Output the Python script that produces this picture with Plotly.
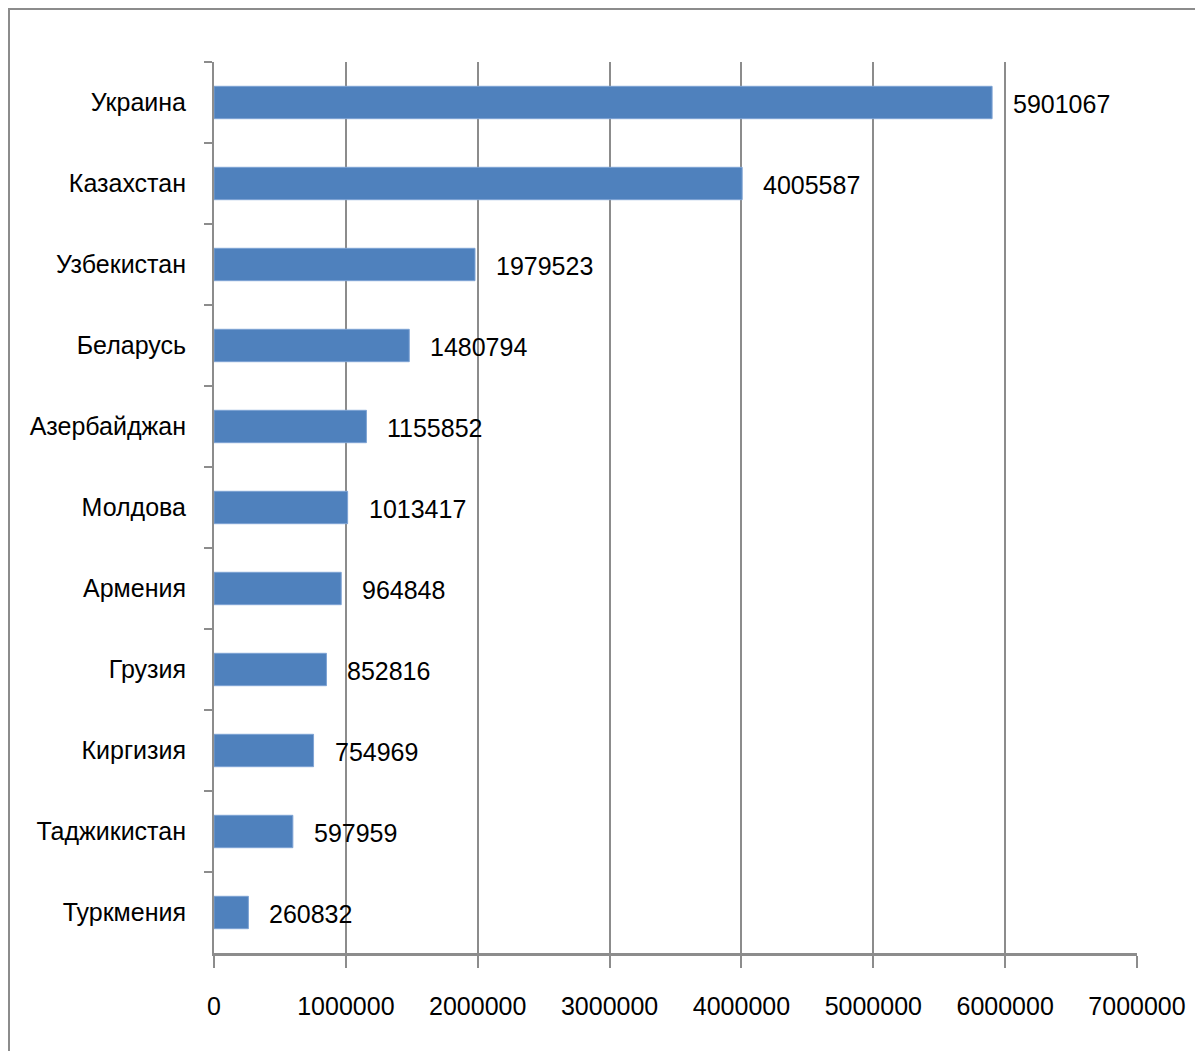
import plotly.graph_objects as go

countries = ["Украина", "Казахстан", "Узбекистан", "Беларусь", "Азербайджан",
             "Молдова", "Армения", "Грузия", "Киргизия", "Таджикистан", "Туркмения"]
values = [5901067, 4005587, 1979523, 1480794, 1155852,
          1013417, 964848, 852816, 754969, 597959, 260832]
x_ticks = [0, 1000000, 2000000, 3000000, 4000000, 5000000, 6000000, 7000000]

FONT = "Liberation Sans, Arial, sans-serif"
FS = 25
GRAY = "#8c8c8c"

OFF = 8  # page body margin
W, H = 1203 - OFF, 1051 - OFF
L, T = 214 - OFF, 62 - OFF
R, B = W - (1137 - OFF), H - (953 - OFF)
pw, ph = W - L - R, H - T - B

fig = go.Figure(go.Bar(
    x=values, y=countries, orientation="h",
    marker=dict(color="#4F81BD", line=dict(color="#7ea3d4", width=1)),
    width=0.4,
    hoverinfo="x+y",
))

for c, v in zip(countries, values):
    fig.add_annotation(x=v, y=c, xref="x", yref="y", text=str(v),
                       showarrow=False, xanchor="left", yanchor="middle",
                       xshift=19, yshift=-1, font=dict(family=FONT, size=FS, color="black"))

fig.add_shape(type="rect", xref="paper", yref="paper",
              x0=(9 - 214) / pw, x1=(1215 - 214) / pw,
              y0=-(1070 - 953) / ph, y1=(953 - 9) / ph,
              line=dict(color=GRAY, width=2), layer="below")

fig.update_layout(
    width=W, height=H,
    margin=dict(l=L, r=R, t=T, b=B, autoexpand=False),
    plot_bgcolor="white", paper_bgcolor="white",
    showlegend=False,
    font=dict(family=FONT, size=FS, color="black"),
    xaxis=dict(range=[0, 7000000], tickvals=x_ticks, ticktext=[str(t) for t in x_ticks],
               showgrid=True, gridcolor=GRAY, gridwidth=2,
               showline=True, linecolor=GRAY, linewidth=3,
               ticks="outside", ticklen=12, tickwidth=2, tickcolor=GRAY,
               ticklabelstandoff=17, zeroline=False, automargin=False),
    yaxis=dict(autorange="reversed", showgrid=False,
               showline=True, linecolor=GRAY, linewidth=2,
               ticks="outside", tickson="boundaries", ticklen=8, tickwidth=2, tickcolor=GRAY,
               ticklabelstandoff=21, automargin=False),
)

fig.write_html("out.html")
